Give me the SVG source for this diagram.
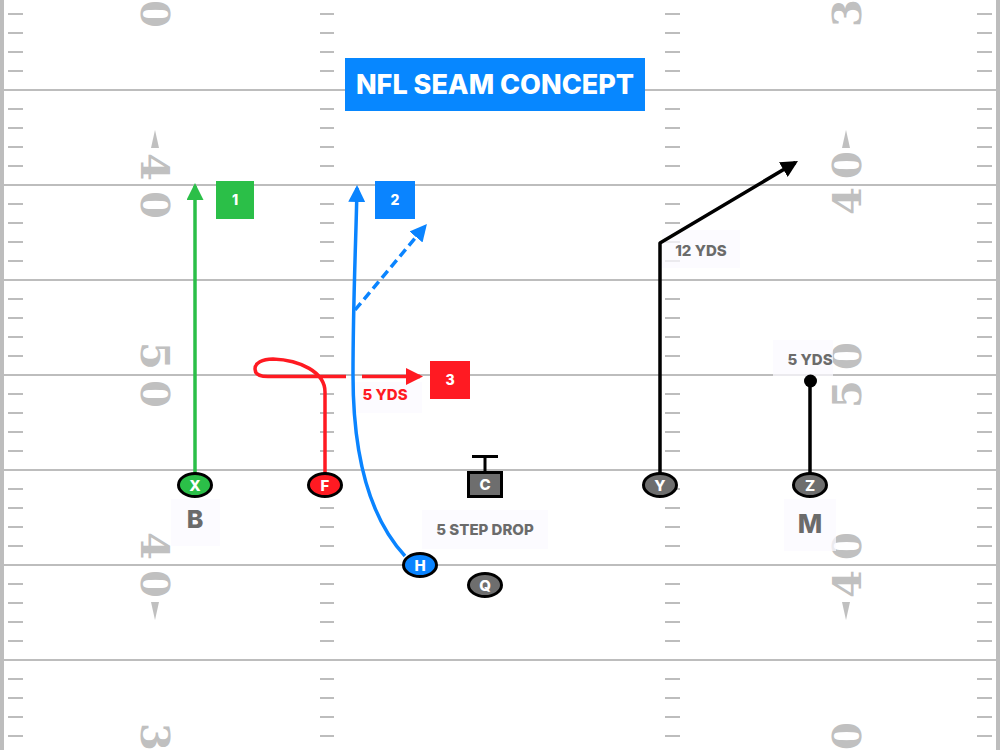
<svg xmlns="http://www.w3.org/2000/svg" width="1000" height="750" viewBox="0 0 1000 750">
<defs>
<style>
.yard{stroke:#bdbdbd;stroke-width:2;fill:none}
.hash{stroke:#bdbdbd;stroke-width:2;fill:none}
.num{font-family:"DejaVu Serif","Liberation Serif",serif;font-weight:bold;font-size:40px;fill:#c0c0c0;text-anchor:middle}
.tri{fill:#c0c0c0}
.route{fill:none;stroke-width:3.5;stroke-linejoin:round;stroke-linecap:butt}
.node{stroke:#000;stroke-width:3}
.nt{font-family:Inter,"Noto Sans",sans-serif;font-weight:800;font-size:15px;fill:#fff;text-anchor:middle}
.bt{font-family:Inter,"Noto Sans",sans-serif;font-weight:800;font-size:14px;fill:#fff;text-anchor:middle}
.lbl{font-family:Inter,"Noto Sans",sans-serif;font-weight:800;fill:#6b6b6b;text-anchor:middle}
.lbg{fill:#fbf9ff;opacity:0.75}
</style>
<marker id="ah-green" viewBox="0 0 17 17" refX="14" refY="8.5" markerWidth="17" markerHeight="17" markerUnits="userSpaceOnUse" orient="auto"><path d="M0,0 L17,8.5 L0,17 z" fill="#2bbf48"/></marker>
<marker id="ah-blue" viewBox="0 0 17 17" refX="14" refY="8.5" markerWidth="17" markerHeight="17" markerUnits="userSpaceOnUse" orient="auto"><path d="M0,0 L17,8.5 L0,17 z" fill="#0a84ff"/></marker>
<marker id="ah-red" viewBox="0 0 17 17" refX="14" refY="8.5" markerWidth="17" markerHeight="17" markerUnits="userSpaceOnUse" orient="auto"><path d="M0,0 L17,8.5 L0,17 z" fill="#ff1a22"/></marker>
<marker id="ah-black" viewBox="0 0 17 17" refX="14" refY="8.5" markerWidth="17" markerHeight="17" markerUnits="userSpaceOnUse" orient="auto"><path d="M0,0 L17,8.5 L0,17 z" fill="#000"/></marker>
</defs>
<rect width="1000" height="750" fill="#fff"/>
<g id="field">
<rect x="0" y="0" width="4" height="750" fill="#bdbdbd"/>
<rect x="996" y="0" width="4" height="750" fill="#bdbdbd"/>
<path class="yard" d="M4,90H996M4,185H996M4,280H996M4,375H996M4,470H996M4,565H996M4,660H996"/>
<path class="hash" d="M8,14h15M320,14h14M665,14h15M977,14h15M8,33h15M320,33h14M665,33h15M977,33h15M8,52h15M320,52h14M665,52h15M977,52h15M8,71h15M320,71h14M665,71h15M977,71h15M8,109h15M320,109h14M665,109h15M977,109h15M8,128h15M320,128h14M665,128h15M977,128h15M8,147h15M320,147h14M665,147h15M977,147h15M8,166h15M320,166h14M665,166h15M977,166h15M8,204h15M320,204h14M665,204h15M977,204h15M8,223h15M320,223h14M665,223h15M977,223h15M8,242h15M320,242h14M665,242h15M977,242h15M8,261h15M320,261h14M665,261h15M977,261h15M8,299h15M320,299h14M665,299h15M977,299h15M8,318h15M320,318h14M665,318h15M977,318h15M8,337h15M320,337h14M665,337h15M977,337h15M8,356h15M320,356h14M665,356h15M977,356h15M8,394h15M320,394h14M665,394h15M977,394h15M8,413h15M320,413h14M665,413h15M977,413h15M8,432h15M320,432h14M665,432h15M977,432h15M8,451h15M320,451h14M665,451h15M977,451h15M8,489h15M320,489h14M665,489h15M977,489h15M8,508h15M320,508h14M665,508h15M977,508h15M8,527h15M320,527h14M665,527h15M977,527h15M8,546h15M320,546h14M665,546h15M977,546h15M8,584h15M320,584h14M665,584h15M977,584h15M8,603h15M320,603h14M665,603h15M977,603h15M8,622h15M320,622h14M665,622h15M977,622h15M8,641h15M320,641h14M665,641h15M977,641h15M8,679h15M320,679h14M665,679h15M977,679h15M8,698h15M320,698h14M665,698h15M977,698h15M8,717h15M320,717h14M665,717h15M977,717h15M8,736h15M320,736h14M665,736h15M977,736h15"/>
<g id="numbers-left">
<text class="num" transform="translate(155,-24) rotate(90)" y="14.5">3</text>
<text class="num" transform="translate(155,14) rotate(90)" y="14.5">0</text>
<text class="num" transform="translate(155,167) rotate(90)" y="14.5">4</text>
<text class="num" transform="translate(155,205) rotate(90)" y="14.5">0</text>
<text class="num" transform="translate(155,356) rotate(90)" y="14.5">5</text>
<text class="num" transform="translate(155,394) rotate(90)" y="14.5">0</text>
<text class="num" transform="translate(155,546) rotate(90)" y="14.5">4</text>
<text class="num" transform="translate(155,584) rotate(90)" y="14.5">0</text>
<text class="num" transform="translate(155,737) rotate(90)" y="14.5">3</text>
<text class="num" transform="translate(155,775) rotate(90)" y="14.5">0</text>
<polygon class="tri" points="155,130 151,148 159,148"/>
<polygon class="tri" points="155,620 151,602 159,602"/>
</g>
<g id="numbers-right">
<text class="num" transform="translate(846,13) rotate(-90)" y="14.5">3</text>
<text class="num" transform="translate(846,-25) rotate(-90)" y="14.5">0</text>
<text class="num" transform="translate(846,201) rotate(-90)" y="14.5">4</text>
<text class="num" transform="translate(846,165) rotate(-90)" y="14.5">0</text>
<text class="num" transform="translate(846,394) rotate(-90)" y="14.5">5</text>
<text class="num" transform="translate(846,356) rotate(-90)" y="14.5">0</text>
<text class="num" transform="translate(846,584) rotate(-90)" y="14.5">4</text>
<text class="num" transform="translate(846,546) rotate(-90)" y="14.5">0</text>
<text class="num" transform="translate(846,774) rotate(-90)" y="14.5">3</text>
<text class="num" transform="translate(846,736) rotate(-90)" y="14.5">0</text>
<polygon class="tri" points="846,130 842,148 850,148"/>
<polygon class="tri" points="846,620 842,602 850,602"/>
</g>
</g>
<g id="title">
<rect x="345" y="58" width="300" height="53" fill="#0787ff"/>
<text x="495" y="93.5" font-family="Inter,'Noto Sans',sans-serif" font-weight="800" font-size="27" fill="#fff" text-anchor="middle">NFL SEAM CONCEPT</text>
</g>
<g id="labels">
<g id="label-12yds"><rect class="lbg" x="662" y="230" width="78" height="38"/><text class="lbl" x="701" y="256" font-size="15">12 YDS</text></g>
<g id="label-5yds-z"><rect class="lbg" x="773" y="340" width="60" height="36"/><text class="lbl" x="810" y="365" font-size="15">5 YDS</text></g>
<g id="label-5yds-f"><rect class="lbg" x="350" y="382" width="72" height="31"/><text class="lbl" x="385" y="400" font-size="15" style="fill:#ff1a22">5 YDS</text></g>
<g id="label-drop"><rect class="lbg" x="422" y="510" width="126" height="39"/><text class="lbl" x="485" y="535" font-size="15">5 STEP DROP</text></g>
<g id="label-B"><rect class="lbg" x="171" y="499" width="49" height="47"/><text class="lbl" x="195" y="528" font-size="25">B</text></g>
<g id="label-M"><rect class="lbg" x="784" y="499" width="52" height="52"/><text class="lbl" x="810" y="533" font-size="26">M</text></g>
</g>
<g id="connectors">
<path class="route" stroke="#2bbf48" d="M195,474 L195,186" marker-end="url(#ah-green)"/>
<path class="route" stroke="#0a84ff" d="M405,556 C367,515 353,450 353,375 C353,300 356,240 357,188" marker-end="url(#ah-blue)"/>
<path class="route" stroke="#0a84ff" stroke-dasharray="9 5" d="M355,310 L425,226.3" marker-end="url(#ah-blue)"/>
<path class="route" stroke="#ff1a22" d="M325,474 L325,392 C325,372 300,360 273,359 C262,359 255,363 255,369 C255,374 260,376.5 268,376.5 L346,376.5"/>
<path class="route" stroke="#ff1a22" d="M362,376.5 L420,376.5" marker-end="url(#ah-red)"/>
<path class="route" stroke="#000" d="M660,474 L660,243 L795.4,162.5" marker-end="url(#ah-black)"/>
<path class="route" stroke="#000" d="M810,474 L810,381"/>
<circle cx="810.5" cy="381" r="6.5" fill="#000"/>
<line x1="485" y1="471" x2="485" y2="457" stroke="#000" stroke-width="3"/>
<line x1="472" y1="456.5" x2="498" y2="456.5" stroke="#000" stroke-width="3"/>
</g>
<g id="box-1"><rect x="216" y="181" width="38" height="38" fill="#2bbf48"/><text class="bt" x="235" y="205">1</text></g>
<g id="box-2"><rect x="375" y="181" width="40" height="38" fill="#0a84ff"/><text class="bt" x="395" y="205">2</text></g>
<g id="box-3"><rect x="430" y="361" width="40" height="38" fill="#ff1a22"/><text class="bt" x="450" y="385">3</text></g>
<g id="node-X"><ellipse class="node" cx="195" cy="485" rx="16.5" ry="11.5" fill="#2bbf48"/><text class="nt" x="195" y="490.5">X</text></g>
<g id="node-F"><ellipse class="node" cx="325" cy="485" rx="16.5" ry="11.5" fill="#ff1a22"/><text class="nt" x="325" y="490.5">F</text></g>
<g id="node-C"><rect class="node" x="468.5" y="472.5" width="33" height="24" fill="#6e6e6e"/><text class="nt" x="485" y="490">C</text></g>
<g id="node-Y"><ellipse class="node" cx="660" cy="485" rx="16.5" ry="11.5" fill="#6e6e6e"/><text class="nt" x="660" y="490.5">Y</text></g>
<g id="node-Z"><ellipse class="node" cx="810" cy="485" rx="16.5" ry="11.5" fill="#6e6e6e"/><text class="nt" x="810" y="490.5">Z</text></g>
<g id="node-H"><ellipse class="node" cx="420" cy="565" rx="16.5" ry="11.5" fill="#0a84ff"/><text class="nt" x="420" y="570.5">H</text></g>
<g id="node-Q"><ellipse class="node" cx="485" cy="585" rx="16.5" ry="11.5" fill="#6e6e6e"/><text class="nt" x="485" y="590.5">Q</text></g>
</svg>
